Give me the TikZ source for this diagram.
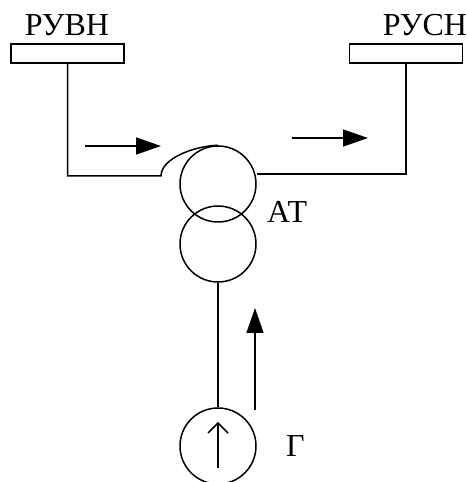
\documentclass[tikz,border=0pt]{standalone}
\usepackage{fontspec}
\setmainfont{Liberation Serif}
\usetikzlibrary{arrows.meta}
\tikzset{
    x=1pt, y=1pt,
    }

\begin{document}
\begin{tikzpicture}[
busnode/.style={rectangle, draw=black, line width=1.5pt, minimum width=113pt, minimum height=19pt, inner sep=0pt},
roundnode/.style={circle, draw=black, line width=1.5pt, minimum size=76pt, inner sep=0pt},
labelnode/.style={inner sep=0pt, font=\fontsize{32}{32}\selectfont},
wire/.style={line width=1.5pt},
flow/.style={line width=1.5pt, -{Triangle[length=25pt,width=17pt]}},
]
\useasboundingbox (0,0) rectangle (467,482);
% buses
\node[busnode] (busHV) at (67.5,428.5) {};
\node[busnode] (busMV) at (406,428.5) {};
\node[labelnode, anchor=base] (labelHV) at (67,446) {РУВН};
\node[labelnode, anchor=base] (labelMV) at (425,446) {РУСН};

% autotransformer and generator
\node[roundnode] (coilA) at (218,298) {};
\node[roundnode] (coilB) at (218,238) {};
\node[roundnode] (gen) at (218,36) {};
\node[labelnode, anchor=base west] (labelAT) at (267,259) {АТ};
\node[labelnode, anchor=base west] (labelG) at (286,25) {Г};

% connectors
\coordinate (bendHV) at (161,306);
\draw[wire] (busHV.south) |- (bendHV) .. controls (161,324) and (195,336) .. (coilA.north);
\draw[wire] (coilA.east |- 0,308) -| (busMV.south);
\draw[wire] (coilB.south) -- (gen.north);

% flow arrows
\coordinate (flowHVa) at (85,336);
\coordinate (flowHVb) at (161,336);
\coordinate (flowMVa) at (292,344);
\coordinate (flowMVb) at (368,344);
\coordinate (flowGa) at (255,72);
\coordinate (flowGb) at (255,174);
\coordinate (genA) at (218,14);
\coordinate (genB) at (218,59);
\draw[flow] (flowHVa) -- (flowHVb);
\draw[flow] (flowMVa) -- (flowMVb);
\draw[flow] (flowGa) -- (flowGb);
\draw[wire] (genA) -- (genB);
\draw[wire] (208,49) -- (genB) -- (228,49);
\end{tikzpicture}
\end{document}
